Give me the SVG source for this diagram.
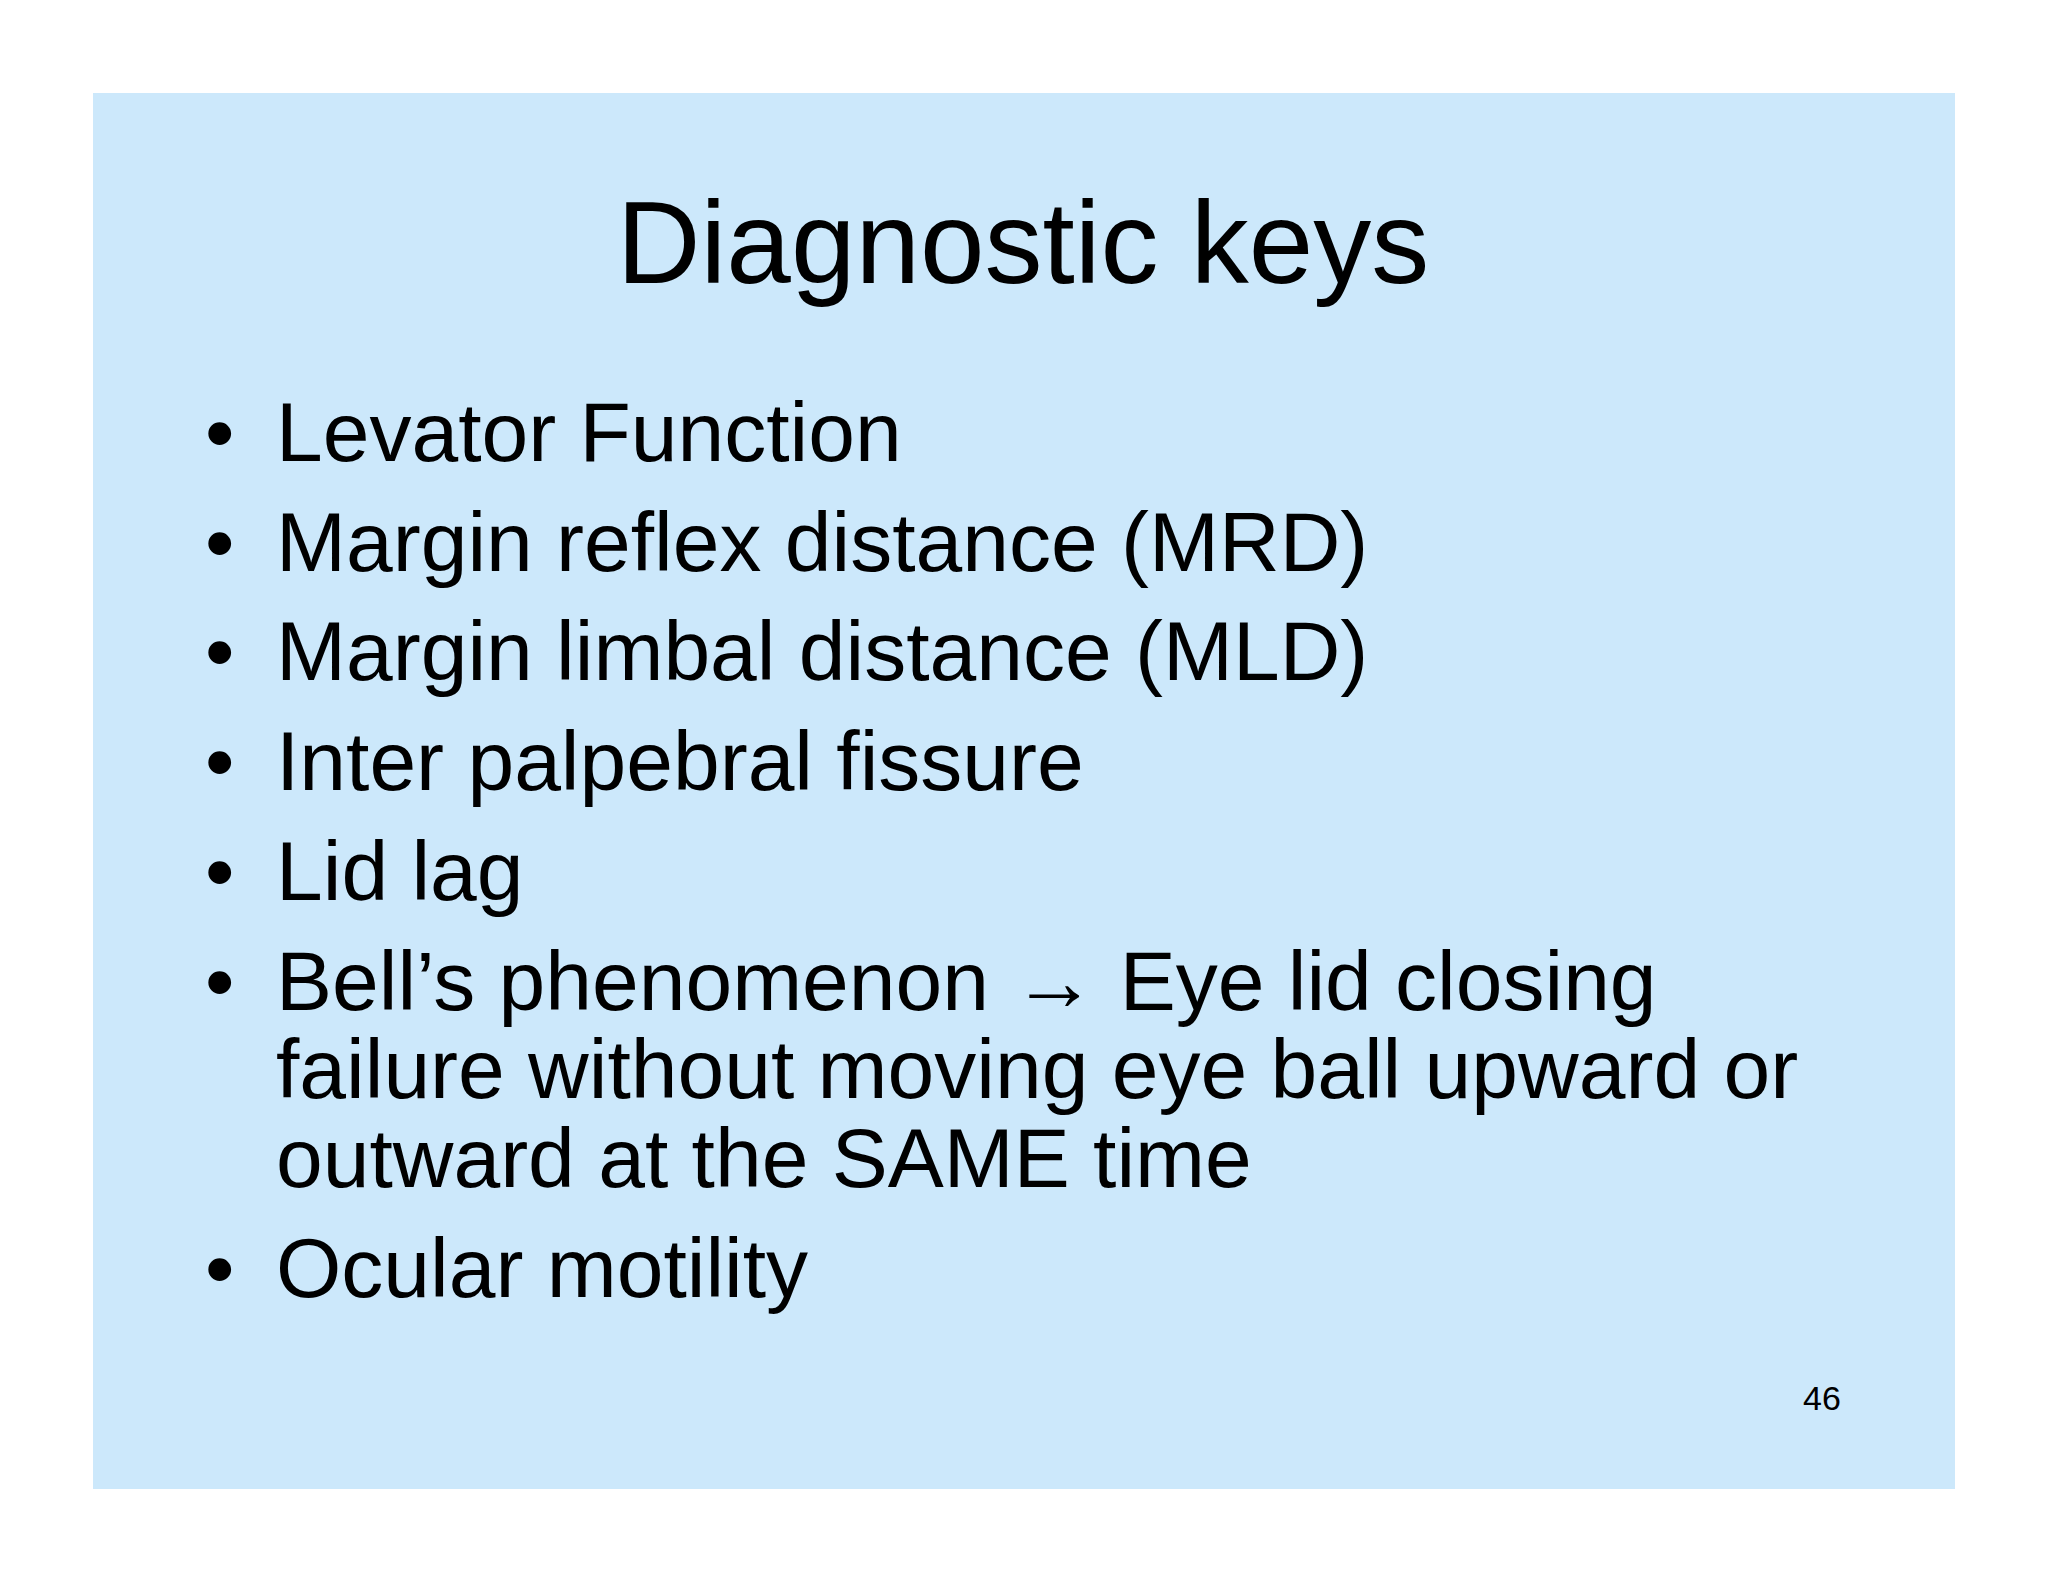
<svg xmlns="http://www.w3.org/2000/svg" width="2048" height="1582" viewBox="0 0 2048 1582">
<style>
.t{font-family:"Liberation Sans",Arial,sans-serif;fill:#000}
.b{font-size:84px}
</style>
<rect width="2048" height="1582" fill="#fff"/>
<rect x="93" y="93" width="1862" height="1396" fill="#cce8fb"/>
<text class="t" x="1023" y="283" font-size="116" text-anchor="middle">Diagnostic keys</text>
<g class="t b">
<text x="205" y="461">•</text><text x="276" y="461">Levator Function</text>
<text x="205" y="571">•</text><text x="276" y="571">Margin reflex distance (MRD)</text>
<text x="205" y="680">•</text><text x="276" y="680">Margin limbal distance (MLD)</text>
<text x="205" y="790">•</text><text x="276" y="790">Inter palpebral fissure</text>
<text x="205" y="900">•</text><text x="276" y="900">Lid lag</text>
<text x="205" y="1010">•</text><text x="276" y="1010">Bell’s phenomenon → Eye lid closing</text>
<text x="276" y="1098">failure without moving eye ball upward or</text>
<text x="276" y="1187">outward at the SAME time</text>
<text x="205" y="1297">•</text><text x="276" y="1297">Ocular motility</text>
</g>
<text class="t" x="1822" y="1410" font-size="34" text-anchor="middle">46</text>
</svg>
